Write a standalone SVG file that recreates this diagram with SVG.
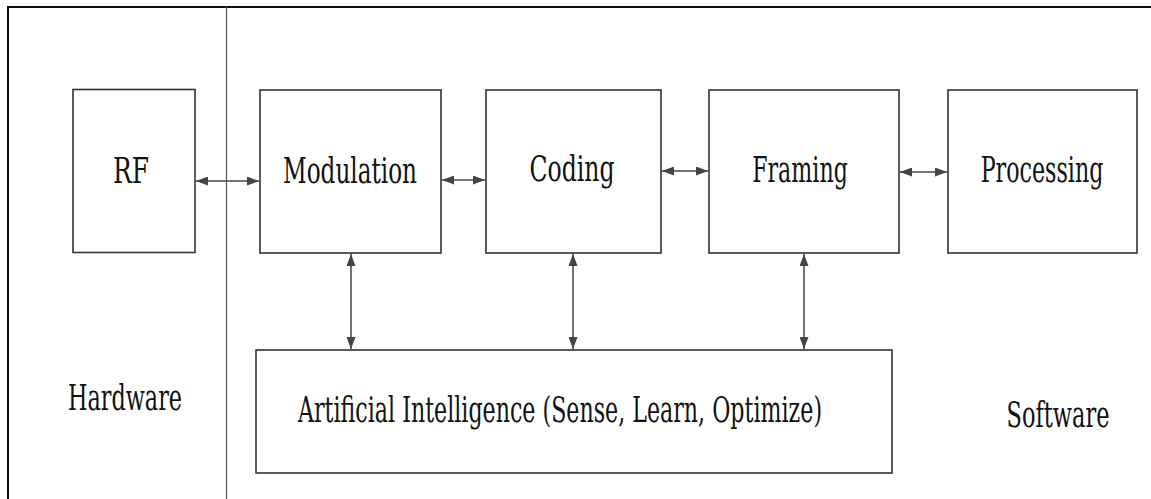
<svg xmlns="http://www.w3.org/2000/svg" width="1151" height="499" viewBox="0 0 1151 499">
  <style>
    .box { fill: #ffffff; stroke: #333333; stroke-width: 1.6; }
    .lbl { font-family: "DejaVu Serif", "Liberation Serif", serif; font-size: 35px; fill: #111111; text-anchor: middle; }
    .conn { stroke: #444444; stroke-width: 1.5; fill: none; marker-start: url(#ah); marker-end: url(#ah); }
  </style>
  <defs>
    <marker id="ah" viewBox="0 0 12 9" refX="12" refY="4.5" markerWidth="12" markerHeight="9" markerUnits="userSpaceOnUse" orient="auto-start-reverse">
      <path d="M0,0 L12,4.5 L0,9 Z" fill="#444444"/>
    </marker>
  </defs>
  <rect width="1151" height="499" fill="#ffffff"/>
  <g id="frame">
    <path d="M8,499 L8,7 L1151,7" stroke="#111111" stroke-width="2" fill="none"/>
    <line x1="226.5" y1="7" x2="226.5" y2="499" stroke="#555555" stroke-width="1.2"/>
  </g>
  <g id="rf">
    <rect class="box" x="73" y="89.5" width="122" height="163"/>
    <text class="lbl" transform="translate(131,183) scale(0.66,1)" textLength="54.5" lengthAdjust="spacingAndGlyphs">RF</text>
  </g>
  <g id="modulation">
    <rect class="box" x="260" y="90" width="181" height="163"/>
    <text class="lbl" transform="translate(350,183) scale(0.66,1)" textLength="203" lengthAdjust="spacingAndGlyphs">Modulation</text>
  </g>
  <g id="coding">
    <rect class="box" x="486" y="90" width="175" height="163"/>
    <text class="lbl" transform="translate(572,181) scale(0.66,1)" textLength="129" lengthAdjust="spacingAndGlyphs">Coding</text>
  </g>
  <g id="framing">
    <rect class="box" x="709" y="90" width="190" height="163"/>
    <text class="lbl" transform="translate(800,182) scale(0.66,1)" textLength="145" lengthAdjust="spacingAndGlyphs">Framing</text>
  </g>
  <g id="processing">
    <rect class="box" x="948" y="90" width="189" height="163"/>
    <text class="lbl" transform="translate(1042,182) scale(0.66,1)" textLength="186" lengthAdjust="spacingAndGlyphs">Processing</text>
  </g>
  <g id="ai">
    <rect class="box" x="256" y="350" width="636" height="123"/>
    <text class="lbl" transform="translate(560,422) scale(0.66,1)" textLength="794" lengthAdjust="spacingAndGlyphs">Artificial Intelligence (Sense, Learn, Optimize)</text>
  </g>
  <g id="hardware">
    <text class="lbl" transform="translate(125,410) scale(0.66,1)" textLength="173" lengthAdjust="spacingAndGlyphs">Hardware</text>
  </g>
  <g id="software">
    <text class="lbl" transform="translate(1058,427) scale(0.66,1)" textLength="156" lengthAdjust="spacingAndGlyphs">Software</text>
  </g>
  <g id="connectors">
    <line class="conn" x1="196" y1="181" x2="259" y2="181"/>
    <line class="conn" x1="442" y1="180" x2="485" y2="180"/>
    <line class="conn" x1="662" y1="171" x2="708" y2="171"/>
    <line class="conn" x1="900" y1="172" x2="947" y2="172"/>
    <line class="conn" x1="351" y1="254" x2="351" y2="349"/>
    <line class="conn" x1="573" y1="254" x2="573" y2="349"/>
    <line class="conn" x1="804" y1="254" x2="804" y2="349"/>
  </g>
</svg>
